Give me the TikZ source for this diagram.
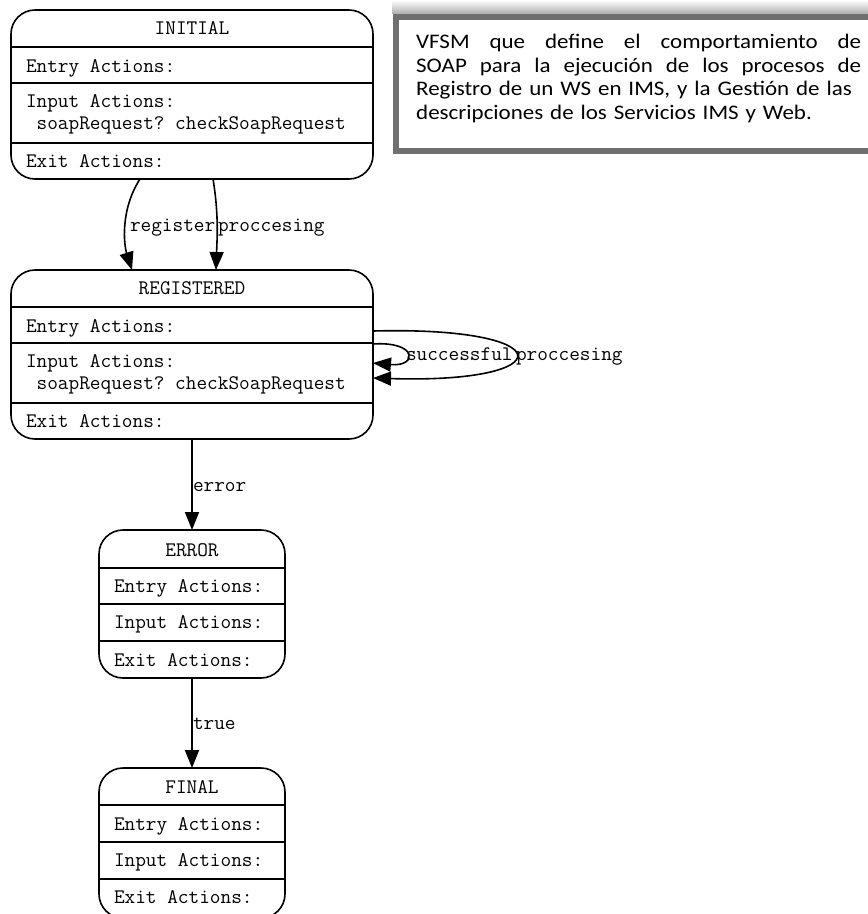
\documentclass[tikz,border=0pt]{standalone}
\usepackage{fontspec}
\newfontfamily\notefont[FakeStretch=1.11]{Carlito}
\usetikzlibrary{arrows.meta}

\definecolor{noteframe}{RGB}{112,112,112}

\begin{document}
\begin{tikzpicture}[x=1pt, y=-1pt,
  statebox/.style={draw, line width=1.6pt, rounded corners=24pt, fill=white,
    inner sep=0pt, outer sep=0pt, anchor=north west},
  sepline/.style={line width=1.6pt},
  mono/.style={font={\fontsize{20.7pt}{24pt}\selectfont\ttfamily\frenchspacing}, inner sep=0pt, outer sep=0pt},
  edge/.style={line width=1.6pt, -{Triangle[length=18pt,width=14pt]}},
  notetext/.style={font={\notefont\fontsize{20.7pt}{23.5pt}\selectfont}, inner sep=0pt,
    text width=445pt, align=left, anchor=north west}]

\useasboundingbox (0,0) rectangle (868,914);
\fill[white] (0,0) rectangle (868,914);
\clip (0,0) rectangle (868,914);

% ---------- INITIAL ----------
\node[statebox, minimum width=362pt, minimum height=169pt] (initial) at (11,10) {};
\foreach \d in {37,73,133}
  \draw[sepline] ([yshift=-\d pt]initial.north west) -- ([yshift=-\d pt]initial.north east);
\node[mono, anchor=base] (initialT) at ([yshift=-24pt]initial.north) {INITIAL};
\node[mono, anchor=base west] (initialE) at ([xshift=15pt,yshift=-62pt]initial.north west) {Entry Actions:};
\node[mono, anchor=base west] (initialI) at ([xshift=15pt,yshift=-97pt]initial.north west) {Input Actions:};
\node[mono, anchor=base west] (initialS) at ([xshift=15pt,yshift=-119pt]initial.north west) {\ soapRequest? checkSoapRequest};
\node[mono, anchor=base west] (initialX) at ([xshift=15pt,yshift=-157pt]initial.north west) {Exit Actions:};

% ---------- REGISTERED ----------
\node[statebox, minimum width=362pt, minimum height=169pt] (registered) at (11,270) {};
\foreach \d in {37,73,133}
  \draw[sepline] ([yshift=-\d pt]registered.north west) -- ([yshift=-\d pt]registered.north east);
\node[mono, anchor=base] (registeredT) at ([yshift=-24pt]registered.north) {REGISTERED};
\node[mono, anchor=base west] (registeredE) at ([xshift=15pt,yshift=-62pt]registered.north west) {Entry Actions:};
\node[mono, anchor=base west] (registeredI) at ([xshift=15pt,yshift=-97pt]registered.north west) {Input Actions:};
\node[mono, anchor=base west] (registeredS) at ([xshift=15pt,yshift=-119pt]registered.north west) {\ soapRequest? checkSoapRequest};
\node[mono, anchor=base west] (registeredX) at ([xshift=15pt,yshift=-157pt]registered.north west) {Exit Actions:};

% ---------- ERROR ----------
\node[statebox, minimum width=186pt, minimum height=148pt] (error) at (99,530) {};
\foreach \d in {38,74,111}
  \draw[sepline] ([yshift=-\d pt]error.north west) -- ([yshift=-\d pt]error.north east);
\node[mono, anchor=base] (errorT) at ([yshift=-26pt]error.north) {ERROR};
\node[mono, anchor=base west] (errorE) at ([xshift=15pt,yshift=-62pt]error.north west) {Entry Actions:};
\node[mono, anchor=base west] (errorI) at ([xshift=15pt,yshift=-98pt]error.north west) {Input Actions:};
\node[mono, anchor=base west] (errorX) at ([xshift=15pt,yshift=-136pt]error.north west) {Exit Actions:};

% ---------- FINAL (runs past the lower edge) ----------
\node[statebox, minimum width=186pt, minimum height=150pt] (final) at (99,768) {};
\foreach \d in {37,74,111}
  \draw[sepline] ([yshift=-\d pt]final.north west) -- ([yshift=-\d pt]final.north east);
\node[mono, anchor=base] (finalT) at ([yshift=-25pt]final.north) {FINAL};
\node[mono, anchor=base west] (finalE) at ([xshift=15pt,yshift=-62pt]final.north west) {Entry Actions:};
\node[mono, anchor=base west] (finalI) at ([xshift=15pt,yshift=-98pt]final.north west) {Input Actions:};
\node[mono, anchor=base west] (finalX) at ([xshift=15pt,yshift=-135pt]final.north west) {Exit Actions:};

% ---------- transitions ----------
\draw[edge] ([xshift=-52pt]initial.south) .. controls (120,210) and (124,245) .. ([xshift=-60pt]registered.north);
\draw[edge] ([xshift=21pt]initial.south) .. controls (219,215) and (217,240) .. ([xshift=24pt]registered.north);
\node[mono, anchor=base west] (lblRegister) at (130,231) {register};
\node[mono, anchor=base west] (lblProc1) at (218,231) {proccesing};

\draw[edge] ([yshift=23.5pt]registered.east) .. controls (563,326) and (563,384) .. ([yshift=-23.5pt]registered.east);
\draw[edge] ([yshift=10.5pt]registered.east) .. controls (418,341) and (418,367) .. ([yshift=-8.5pt]registered.east);
\node[mono, anchor=base west] (lblSuccess) at (406,360) {successful};
\node[mono, anchor=base west] (lblProc2) at (516,360) {proccesing};

\draw[edge] (registered.south) -- (error.north);
\node[mono, anchor=base west] (lblError) at (193,491) {error};

\draw[edge] (error.south) -- (final.north);
\node[mono, anchor=base west] (lblTrue) at (193,729) {true};

% ---------- description note ----------
\shade[top color=white, bottom color=black!30] (392,0) rectangle (880,13);
\draw[line width=6pt, draw=noteframe] (396,16.5) rectangle (885,151);
\node[notetext] (note) at (416,34) {%
\baselineskip=23.5pt\lineskiplimit=-20pt
\hbox to 445pt{VFSM \hfil que \hfil define \hfil el \hfil comportamiento \hfil de}
\hbox to 445pt{SOAP \hfil para \hfil la \hfil ejecución \hfil de \hfil los \hfil procesos \hfil de}
\hbox to 445pt{Registro de un WS en IMS, y la Gestión de las}
\hbox{descripciones de los Servicios IMS y Web.}};

\end{tikzpicture}
\end{document}
